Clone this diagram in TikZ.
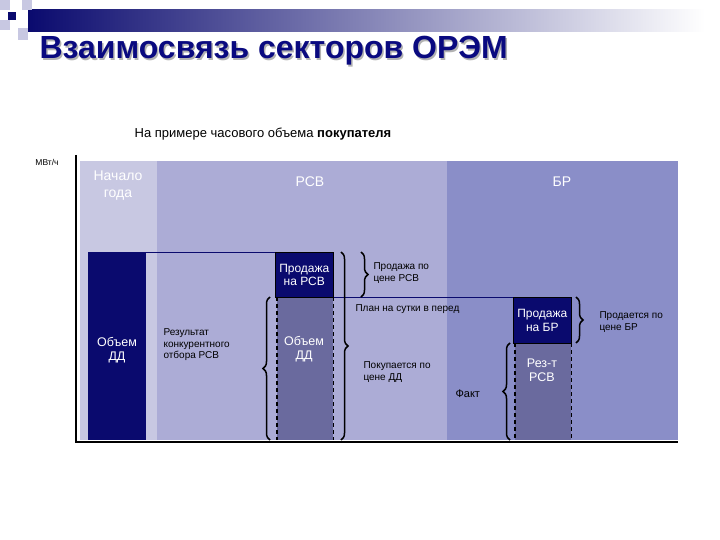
\documentclass[tikz,border=0pt]{standalone}
\usepackage{fontspec}
\setmainfont{Liberation Sans}
\usetikzlibrary{decorations.pathreplacing}
\definecolor{navy}{HTML}{0A0A6E}
\definecolor{cStart}{HTML}{C8C8E2}
\definecolor{cRSV}{HTML}{ACACD6}
\definecolor{cBR}{HTML}{8A8EC8}
\definecolor{cMid}{HTML}{6A6A9E}
\definecolor{ttl}{HTML}{0A0A80}
\tikzset{
 darkbox/.style={fill=navy,draw=black,line width=0.6pt,text=white,font=\fontsize{12}{13.5}\selectfont,align=center},
 midbox/.style={fill=cMid,draw=none},
 dsh/.style={dash pattern=on 4pt off 3pt,line width=1.5pt},
 brc/.style={decorate,decoration={brace,amplitude=7pt},line width=1.5pt},
 lbl/.style={font=\fontsize{10}{11.5}\selectfont,align=left,anchor=west},
 wlbl/.style={text=white,font=\fontsize{12.5}{14}\selectfont,align=center}
}
\begin{document}
\begin{tikzpicture}[x=1pt,y=-1pt]
\useasboundingbox (0,0) rectangle (720,540);
\fill[white] (0,0) rectangle (720,540);
% header
\shade[left color=navy,right color=white] (28,10) rectangle (705,32);
\fill[cStart] (0,0) rectangle (10,10);
\fill[cStart] (22,0) rectangle (32,10);
\fill[cStart] (0,20) rectangle (10,30);
\fill[cStart] (18,28) rectangle (28,40);
\fill[navy] (8,12) rectangle (16,20);
\node[anchor=west,text=gray!60,font=\bfseries\fontsize{32}{34}\selectfont] at (37.5,52.5) {Взаимосвязь секторов ОРЭМ};
\node[anchor=west,text=ttl,font=\bfseries\fontsize{32}{34}\selectfont] (title) at (36,51) {Взаимосвязь секторов ОРЭМ};
\node[font=\fontsize{13}{15}\selectfont] (sub) at (263,134) {На примере часового объема \textbf{покупателя}};
\node[font=\fontsize{8.5}{9}\selectfont] (unit) at (47,162) {МВт/ч};
% regions
\fill[cStart] (80,161) rectangle (157,440);
\fill[cRSV] (157,161) rectangle (447,440);
\fill[cBR] (447,161) rectangle (678,440);
\node[wlbl,font=\fontsize{14}{17}\selectfont] (ng) at (118,186) {Начало\\года};
\node[wlbl,font=\fontsize{14}{17}\selectfont] (rsv) at (310,182) {РСВ};
\node[wlbl,font=\fontsize{14}{17}\selectfont] (br) at (562,182) {БР};
% axes
\draw[line width=2.5pt] (76,155) -- (76,442) -- (678,442);
% bars
\fill[navy] (88,252) rectangle (146,440);
\node[wlbl] (dd1) at (117,350) {Объем\\ДД};
\draw[navy,line width=0.8pt] (146,252) -- (275,252);
\draw[navy,line width=0.8pt] (333,297) -- (513,297);
\node[midbox,minimum width=56pt,minimum height=143pt,anchor=north west,inner sep=0] (dd2) at (277,297) {};
\draw[dsh] (dd2.north west) -- (dd2.south west) (dd2.north east) -- (dd2.south east);
\node[wlbl] at (304,349) {Объем\\ДД};
\node[darkbox,minimum width=58pt,minimum height=45pt,anchor=north west,inner sep=0] (psv) at (275,252) {Продажа\\на РСВ};
\node[midbox,minimum width=56pt,minimum height=97pt,anchor=north west,inner sep=0] (rez) at (515,343) {};
\draw[dsh] (rez.north west) -- (rez.south west) (rez.north east) -- (rez.south east);
\node[wlbl] at (542,370) {Рез-т\\РСВ};
\node[darkbox,minimum width=58pt,minimum height=46pt,anchor=north west,inner sep=0] (pbr) at (513,297) {Продажа\\на БР};
% braces
\draw[brc] (341,252) -- (341,440);
\draw[brc] (361,252) -- (361,297);
\draw[brc] (270,440) -- (270,297);
\draw[brc] (510,440) -- (510,343);
\draw[brc] (576,297) -- (576,343);
% labels
\node[lbl] (rk) at (160,345) {Результат\\конкурентного\\отбора РСВ};
\node[lbl] (pp) at (370,273) {Продажа по\\цене РСВ};
\node[lbl] (plan) at (352,309) {План на сутки в перед};
\node[lbl] (pok) at (360,372) {Покупается по\\цене ДД};
\node[lbl,font=\fontsize{11}{12}\selectfont] (fakt) at (452,394) {Факт};
\node[lbl] (pbrl) at (596,322) {Продается по\\цене БР};
\end{tikzpicture}
\end{document}
